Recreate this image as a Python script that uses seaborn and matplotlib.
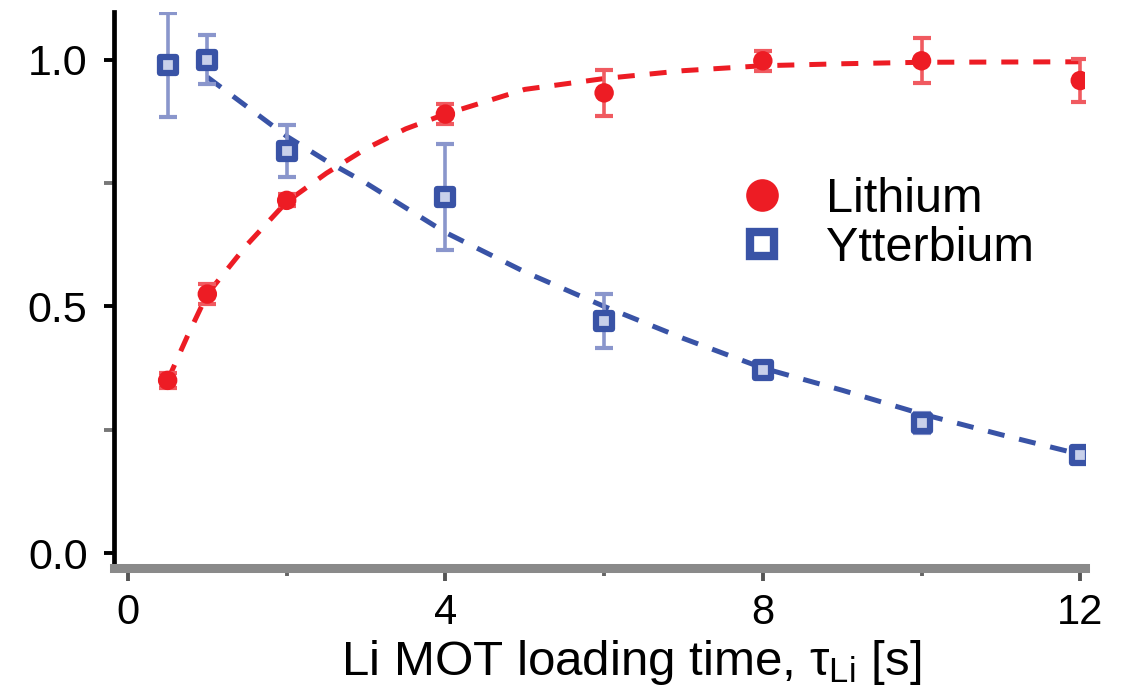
import matplotlib
matplotlib.use("Agg")
import matplotlib.pyplot as plt
from matplotlib.lines import Line2D
from matplotlib.ticker import MultipleLocator
import seaborn as sns
import pandas as pd

# ---- data ----
t_li = [0.5, 1, 2, 4, 6, 8, 10, 12]
li_vals = [0.35, 0.525, 0.715, 0.89, 0.933, 0.998, 0.998, 0.958]
li_err = [0.015, 0.02, 0.012, 0.02, 0.046, 0.02, 0.046, 0.044]

t_yb = [0.5, 1, 2, 4, 6, 8, 10, 12]
yb_vals = [0.99, 1.0, 0.815, 0.722, 0.47, 0.371, 0.264, 0.199]
yb_err = [0.105, 0.05, 0.053, 0.107, 0.055, 0.015, 0.02, 0.015]

fit_li_t = [0.5, 0.75, 1.0, 1.5, 2.0, 2.5, 3.0, 3.5, 4.0, 5.0, 6.0, 7.0, 8.0, 9.0, 10.0, 12.0]
fit_li_v = [0.35, 0.44, 0.525, 0.625, 0.712, 0.77, 0.82, 0.86, 0.89, 0.94, 0.962, 0.978, 0.988, 0.992, 0.995, 0.996]

fit_yb_t = [1.0, 1.5, 2.0, 2.5, 3.0, 3.5, 4.0, 5.0, 6.0, 7.0, 8.0, 9.0, 10.0, 11.0, 12.0]
fit_yb_v = [0.965, 0.905, 0.845, 0.795, 0.75, 0.70, 0.65, 0.57, 0.50, 0.435, 0.375, 0.33, 0.282, 0.24, 0.20]

x_ticks = [0, 4, 8, 12]
y_ticks = [0.0, 0.5, 1.0]
series_names = ["Lithium", "Ytterbium"]
x_label = "Li MOT loading time, τ$_{\\mathrm{Li}}$ [s]"

RED = "#ed1c24"
BLUE = "#3953a6"
BLUE_ERR = "#8a96cc"

sns.set_theme(style="white")
plt.rcParams["font.family"] = ["Liberation Sans", "DejaVu Sans"]
plt.rcParams["mathtext.fontset"] = "custom"
plt.rcParams["mathtext.rm"] = "Liberation Sans"
plt.rcParams["mathtext.it"] = "Liberation Sans:italic"
plt.rcParams["text.color"] = "black"
plt.rcParams["axes.labelcolor"] = "black"
plt.rcParams["xtick.labelcolor"] = "black"
plt.rcParams["ytick.labelcolor"] = "black"

fig = plt.figure(figsize=(11.32, 6.92), dpi=100)
ax = fig.add_axes([0.1007, 0.1792, 0.8578, 0.8035])

li_df = pd.DataFrame({"t": t_li, "v": li_vals})
yb_df = pd.DataFrame({"t": t_yb, "v": yb_vals})
li_fit = pd.DataFrame({"t": fit_li_t, "v": fit_li_v})
yb_fit = pd.DataFrame({"t": fit_yb_t, "v": fit_yb_v})

dash = (0, (3.4, 3.0))
sns.lineplot(data=yb_fit, x="t", y="v", ax=ax, color=BLUE, lw=3.6,
             linestyle=dash, zorder=2)
sns.lineplot(data=li_fit, x="t", y="v", ax=ax, color=RED, lw=3.6,
             linestyle=dash, zorder=3)

ax.errorbar(t_yb, yb_vals, yerr=yb_err, fmt="none", ecolor=BLUE_ERR,
            elinewidth=2.6, capsize=6.5, capthick=3, zorder=4)
ax.errorbar(t_li, li_vals, yerr=li_err, fmt="none", ecolor="#f05a60",
            elinewidth=2.6, capsize=6.5, capthick=3, zorder=5)

sns.scatterplot(data=yb_df, x="t", y="v", ax=ax, marker="s", s=11**2,
                facecolor="#c8d0ea", edgecolor=BLUE, linewidth=4.5, zorder=6)
sns.scatterplot(data=li_df, x="t", y="v", ax=ax, marker="o", s=14**2,
                color=RED, edgecolor="none", linewidth=0, zorder=7)

ax.set_xlim(-0.176, 12.06)
ax.set_ylim(-0.0304, 1.097)
ax.set_xticks(x_ticks)
ax.set_xticklabels([str(v) for v in x_ticks])
ax.set_yticks(y_ticks)
ax.set_yticklabels([f"{v:.1f}" for v in y_ticks])
ax.xaxis.set_minor_locator(MultipleLocator(2))
ax.yaxis.set_minor_locator(MultipleLocator(0.25))

for s in ["top", "right"]:
    ax.spines[s].set_visible(False)
ax.spines["left"].set_color("black")
ax.spines["left"].set_linewidth(3.4)
ax.spines["bottom"].set_color("#8a8a8a")
ax.spines["bottom"].set_linewidth(6.5)

ax.tick_params(axis="y", which="major", direction="out", length=7, width=2.8,
               color="black", labelsize=31, pad=12, left=True)
ax.tick_params(axis="y", which="minor", direction="out", length=7, width=2.8,
               color="#777777", left=True)
ax.tick_params(axis="x", which="major", direction="out", length=9, width=2.8,
               color="#555555", labelsize=30, pad=9, bottom=True)
ax.tick_params(axis="x", which="minor", direction="out", length=6, width=2.8,
               color="#666666", bottom=True)

ax.set_xlabel(x_label, fontsize=35.5, color="black")
ax.xaxis.label.set_verticalalignment("baseline")
ax.xaxis.set_label_coords(0.533, -0.1924)
ax.set_ylabel("")

handles = [
    Line2D([], [], linestyle="none", marker="o", markersize=23.5, color=RED,
           markeredgewidth=0),
    Line2D([], [], linestyle="none", marker="s", markersize=17,
           markerfacecolor="white", markeredgecolor=BLUE, markeredgewidth=6),
]
leg = fig.legend(handles, series_names, loc="center left",
                 bbox_to_anchor=(736.5 / 1132, 1 - 224 / 692),
                 frameon=False, fontsize=35, handlelength=1.05,
                 handletextpad=0.8, labelspacing=0.09, borderpad=0,
                 borderaxespad=0)
for txt in leg.get_texts():
    txt.set_color("black")

fig.savefig("out.png", dpi=100)
